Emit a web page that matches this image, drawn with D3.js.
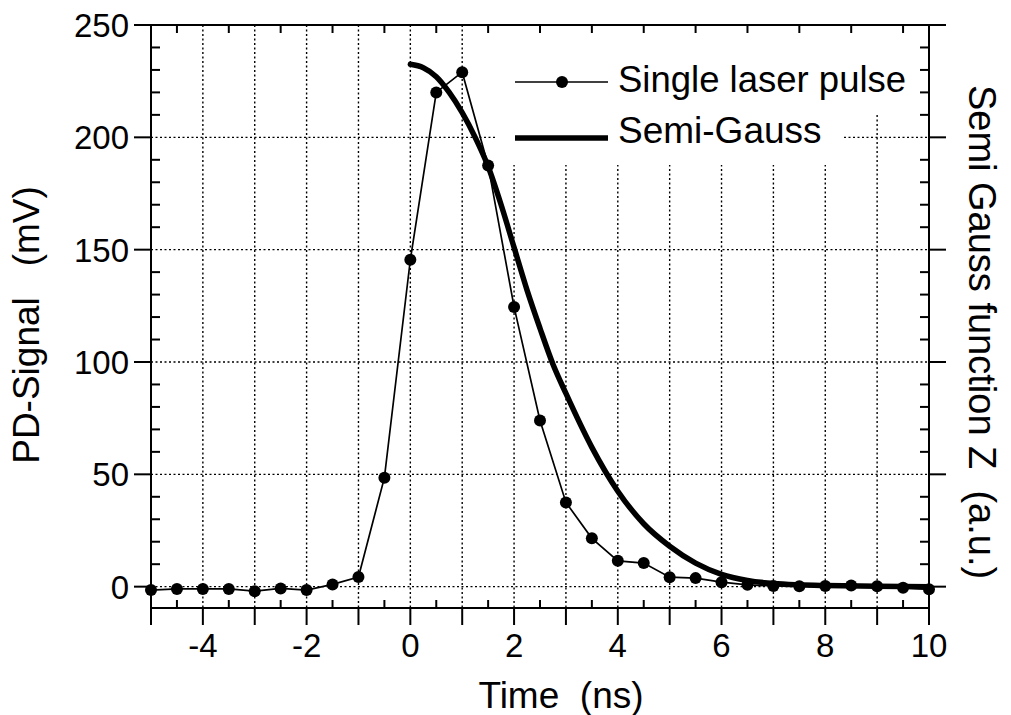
<!DOCTYPE html>
<html>
<head>
<meta charset="utf-8">
<title>PD-Signal and Semi-Gauss</title>
<script src="https://cdn.jsdelivr.net/npm/d3@7"></script>
<style>
 body { margin: 0; background: #fff; }
 svg text { font-family: "Liberation Sans", Arial, sans-serif; fill: #000; white-space: pre; }
</style>
</head>
<body>
<svg id="chart" width="1011" height="715"></svg>
<script>
// measured pulse (every 0.5 ns)
var pulseTime = [-5,-4.5,-4,-3.5,-3,-2.5,-2,-1.5,-1,-0.5,0,0.5,1,1.5,2,2.5,3,3.5,4,4.5,5,5.5,6,6.5,7,7.5,8,8.5,9,9.5,10];
var pulseSignal = [-1.5,-1,-1,-1,-2,-0.8,-1.5,1,4.3,48.5,145.5,220,229,187.5,124.5,74,37.5,21.5,11.5,10.5,4.2,3.8,2,0.8,0.3,0.2,0.3,0.5,0.2,-0.5,-1.2];

// semi-Gauss curve
var gaussTime = [0,0.25,0.5,0.75,1,1.25,1.5,1.75,2,2.25,2.5,2.75,3,3.5,4,4.5,5,5.5,6,6.5,7,7.5,8,9,10];
var gaussValue = [232.5,231,227,220,211,200,187,170,151,132,115,99,86,62,42.5,28,18,10.5,5.5,2.8,1.4,0.8,0.5,0.2,0];

var xTickLabels = [-4,-2,0,2,4,6,8,10];
var yTickLabels = [0,50,100,150,200,250];
var legendNames = ["Single laser pulse", "Semi-Gauss"];

var svg = d3.select("#chart");

var x = d3.scaleLinear().domain([-5, 10]).range([151, 929]);
var y = d3.scaleLinear().domain([-9.5, 250]).range([608, 25]);

var xMajor = d3.range(-5, 10.01, 1);
var xMinor = d3.range(-4.5, 10, 1);
var yMajor = d3.range(0, 250.01, 50);
var yMinor = d3.range(0, 250, 10).filter(function(d){ return d % 50 !== 0; });

// dotted grid
var grid = svg.append("g").attr("stroke", "#000").attr("stroke-width", 1.4)
    .attr("stroke-dasharray", "2,2.5");
grid.selectAll("line.v").data(d3.range(-4, 10, 1)).enter().append("line")
    .attr("class", "v")
    .attr("x1", function(d){ return x(d); }).attr("x2", function(d){ return x(d); })
    .attr("y1", y(250)).attr("y2", y(-9.5));
grid.selectAll("line.h").data(d3.range(0, 250, 50)).enter().append("line")
    .attr("class", "h")
    .attr("x1", x(-5)).attr("x2", x(10))
    .attr("y1", function(d){ return y(d); }).attr("y2", function(d){ return y(d); });

// legend background hides the grid
svg.append("rect").attr("x", 497).attr("y", 26).attr("width", 422).attr("height", 87).attr("fill", "#fff");
svg.append("rect").attr("x", 497).attr("y", 113).attr("width", 347).attr("height", 52).attr("fill", "#fff");

// frame
var frame = svg.append("g").attr("stroke", "#000").attr("stroke-width", 2).attr("fill", "none");
frame.append("rect").attr("x", x(-5)).attr("y", y(250))
    .attr("width", x(10) - x(-5)).attr("height", y(-9.5) - y(250));

// x ticks: majors out, minors in
frame.selectAll("line.xb").data(xMajor).enter().append("line")
    .attr("class", "xb")
    .attr("x1", function(d){ return x(d); }).attr("x2", function(d){ return x(d); })
    .attr("y1", y(-9.5)).attr("y2", y(-9.5) + 17);
frame.selectAll("line.xm").data(xMinor).enter().append("line")
    .attr("class", "xm")
    .attr("x1", function(d){ return x(d); }).attr("x2", function(d){ return x(d); })
    .attr("y1", y(-9.5)).attr("y2", y(-9.5) - 8);
frame.selectAll("line.xt").data(xMinor).enter().append("line")
    .attr("class", "xt")
    .attr("x1", function(d){ return x(d); }).attr("x2", function(d){ return x(d); })
    .attr("y1", y(250)).attr("y2", y(250) + 8);

// y ticks both sides
[[x(-5), -1], [x(10), 1]].forEach(function(s){
    frame.selectAll(null).data(yMajor).enter().append("line")
        .attr("x1", s[0]).attr("x2", s[0] + s[1] * 17)
        .attr("y1", function(d){ return y(d); }).attr("y2", function(d){ return y(d); });
    frame.selectAll(null).data(yMinor).enter().append("line")
        .attr("x1", s[0]).attr("x2", s[0] - s[1] * 9)
        .attr("y1", function(d){ return y(d); }).attr("y2", function(d){ return y(d); });
});

// tick labels
svg.append("g").selectAll("text").data(xTickLabels).enter().append("text")
    .attr("x", function(d){ return x(d); }).attr("y", 657)
    .attr("text-anchor", "middle").style("font-size", "33px")
    .text(function(d){ return d; });
svg.append("g").selectAll("text").data(yTickLabels).enter().append("text")
    .attr("x", 129).attr("y", function(d){ return y(d); }).attr("dy", "0.36em")
    .attr("text-anchor", "end").style("font-size", "33px")
    .text(function(d){ return d; });

// axis titles
svg.append("text").attr("x", 561).attr("y", 708).attr("text-anchor", "middle")
    .style("font-size", "37px").text("Time  (ns)");
svg.append("text").attr("transform", "translate(39,325) rotate(-90)")
    .attr("text-anchor", "middle").style("font-size", "37px").text("PD-Signal   (mV)");
svg.append("text").attr("transform", "translate(969,332) rotate(90)")
    .attr("text-anchor", "middle").style("font-size", "38px").text("Semi Gauss function Z  (a.u.)");

// series
var pulse = pulseTime.map(function(t, i){ return [t, pulseSignal[i]]; });
var gauss = gaussTime.map(function(t, i){ return [t, gaussValue[i]]; });

var line = d3.line()
    .x(function(d){ return x(d[0]); })
    .y(function(d){ return y(d[1]); });

svg.append("path").datum(gauss)
    .attr("d", line.curve(d3.curveMonotoneX))
    .attr("fill", "none").attr("stroke", "#000").attr("stroke-width", 5.5)
    .attr("stroke-linecap", "round");

svg.append("path").datum(pulse)
    .attr("d", line.curve(d3.curveLinear))
    .attr("fill", "none").attr("stroke", "#000").attr("stroke-width", 1.7);

svg.append("g").selectAll("circle").data(pulse).enter().append("circle")
    .attr("cx", function(d){ return x(d[0]); })
    .attr("cy", function(d){ return y(d[1]); })
    .attr("r", 6).attr("fill", "#000");

// legend
var lg = svg.append("g");
lg.append("line").attr("x1", 515).attr("x2", 608).attr("y1", 82).attr("y2", 82)
    .attr("stroke", "#000").attr("stroke-width", 1.7);
lg.append("circle").attr("cx", 562).attr("cy", 82).attr("r", 6).attr("fill", "#000");
lg.append("line").attr("x1", 515).attr("x2", 608).attr("y1", 138).attr("y2", 138)
    .attr("stroke", "#000").attr("stroke-width", 5.5);
lg.selectAll("text").data(legendNames).enter().append("text")
    .attr("x", 618).attr("y", function(d, i){ return 92 + i * 51; })
    .style("font-size", function(d, i){ return i ? "37px" : "36.5px"; })
    .text(function(d){ return d; });
</script>
</body>
</html>
